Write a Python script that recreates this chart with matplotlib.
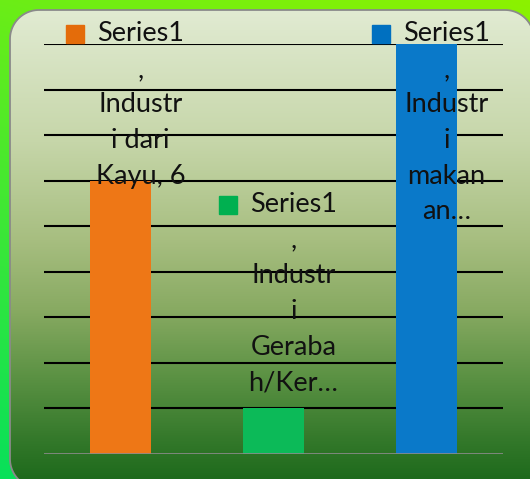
import numpy as np
import matplotlib
matplotlib.use("Agg")
import matplotlib.pyplot as plt
from matplotlib.colors import LinearSegmentedColormap, to_rgb
from matplotlib.patches import Polygon
from matplotlib.transforms import offset_copy

# ---- data ----
categories = ["Industri dari Kayu", "Industri Gerabah/Keramik", "Industri makanan"]
series_name = "Series1"
values = [6, 1, 9]
label_texts = [
    "Series1\n,\nIndustr\ni dari\nKayu, 6",
    "Series1\n,\nIndustr\ni\nGeraba\nh/Ker\u2026",
    "Series1\n,\nIndustr\ni\nmakan\nan\u2026",
]
bar_colors = ["#EE7716", "#0CBA58", "#0A79C9"]
key_colors = ["#E46C0A", "#00B050", "#0070C0"]
yticks = list(range(0, 10))

W, H = 530, 479
DPI = 100
fig = plt.figure(figsize=(W / DPI, H / DPI), dpi=DPI)

# ---- outer background gradient ----
bg = fig.add_axes([0, 0, 1, 1], zorder=0)
bg.set_axis_off()
yy, xx = np.mgrid[0:1:200j, 0:1:200j]
t = np.clip(0.75 * yy + 0.25 * (1 - xx), 0, 1)
c_top = np.array(to_rgb("#8CF200"))
c_bot = np.array(to_rgb("#08E05A"))
img = c_top[None, None, :] * (1 - t[..., None]) + c_bot[None, None, :] * t[..., None]
bg.imshow(img, extent=(0, W, H, 0), aspect="auto", zorder=0)

# ---- panel (rounded shape) with vertical gradient ----
stops = [(0.0, "#E1EBD2"), (0.28, "#C6D6A9"), (0.49, "#A7BE80"), (0.64, "#88AA62"),
         (0.78, "#5C9244"), (0.92, "#33782A"), (1.0, "#1E6A1C")]
cmap = LinearSegmentedColormap.from_list("panel", stops)
L, T, R, B, r = 10, 10, 534, 488, 29


def arc(cx, cy, a0, a1, n=24):
    th = np.radians(np.linspace(a0, a1, n))
    return np.column_stack([cx + r * np.cos(th), cy + r * np.sin(th)])


shape = np.vstack([
    [[L + r, T]],
    arc(R - r, T + r, 270, 360),
    [[R, B], [L + r, B]],
    arc(L + r, B - r, 90, 180),
    [[L, T + r]],
    arc(L + r, T + r, 180, 270),
])

grad = np.linspace(0, 1, 256)[:, None]
im = bg.imshow(grad, cmap=cmap, extent=(L, R, H, T), aspect="auto", zorder=2,
               vmin=0, vmax=1)
bg.set_xlim(0, W)
bg.set_ylim(H, 0)
clip = Polygon(shape, closed=True, facecolor="none", edgecolor="none", transform=bg.transData)
im.set_clip_path(clip)
bg.add_patch(Polygon(shape, closed=True, facecolor="none", edgecolor="#8A8A8A",
                     linewidth=1.3, zorder=3))

# ---- chart axes ----
left, right, top, bottom = 44, 503, 44, 454
ax = fig.add_axes([left / W, (H - bottom) / H, (right - left) / W, (bottom - top) / H], zorder=5)
ax.patch.set_alpha(0)
x = np.arange(len(categories))
ax.set_xlim(-0.5, len(categories) - 0.5)
ax.set_ylim(0, 9)
for yv in yticks[1:]:
    ax.axhline(yv, color="black", linewidth=1.5, zorder=1)
ax.axhline(0, color="#8C8C8C", linewidth=1.2, zorder=3)
ax.bar(x, values, width=0.4, color=bar_colors, zorder=2)
for s in ax.spines.values():
    s.set_visible(False)
ax.set_xticks([])
ax.set_yticks([])

# ---- data labels with legend keys ----
font = "Lato"
fs = 19.5
line_h = 36 / 45.5  # data units per text line
clamp_top = 9.5
for i, (val, txt) in enumerate(zip(values, label_texts)):
    n = txt.count("\n") + 1
    ytop = min(val + n * line_h, clamp_top)
    ttrans = offset_copy(ax.transData, fig=fig, x=20 * 72 / DPI, y=0, units="points")
    ax.text(x[i], ytop, txt, transform=ttrans, ha="center", va="top",
            multialignment="center", fontsize=fs, family=font, color="#111111",
            linespacing=1.53, zorder=6, clip_on=False)
    ktrans = offset_copy(ax.transData, fig=fig, x=-45.5 * 72 / DPI, y=-13 * 72 / DPI, units="points")
    ax.plot([x[i]], [ytop], marker="s", markersize=12.5, color=key_colors[i],
            transform=ktrans, clip_on=False, zorder=6, linestyle="none")

fig.savefig("out.png", dpi=DPI)
